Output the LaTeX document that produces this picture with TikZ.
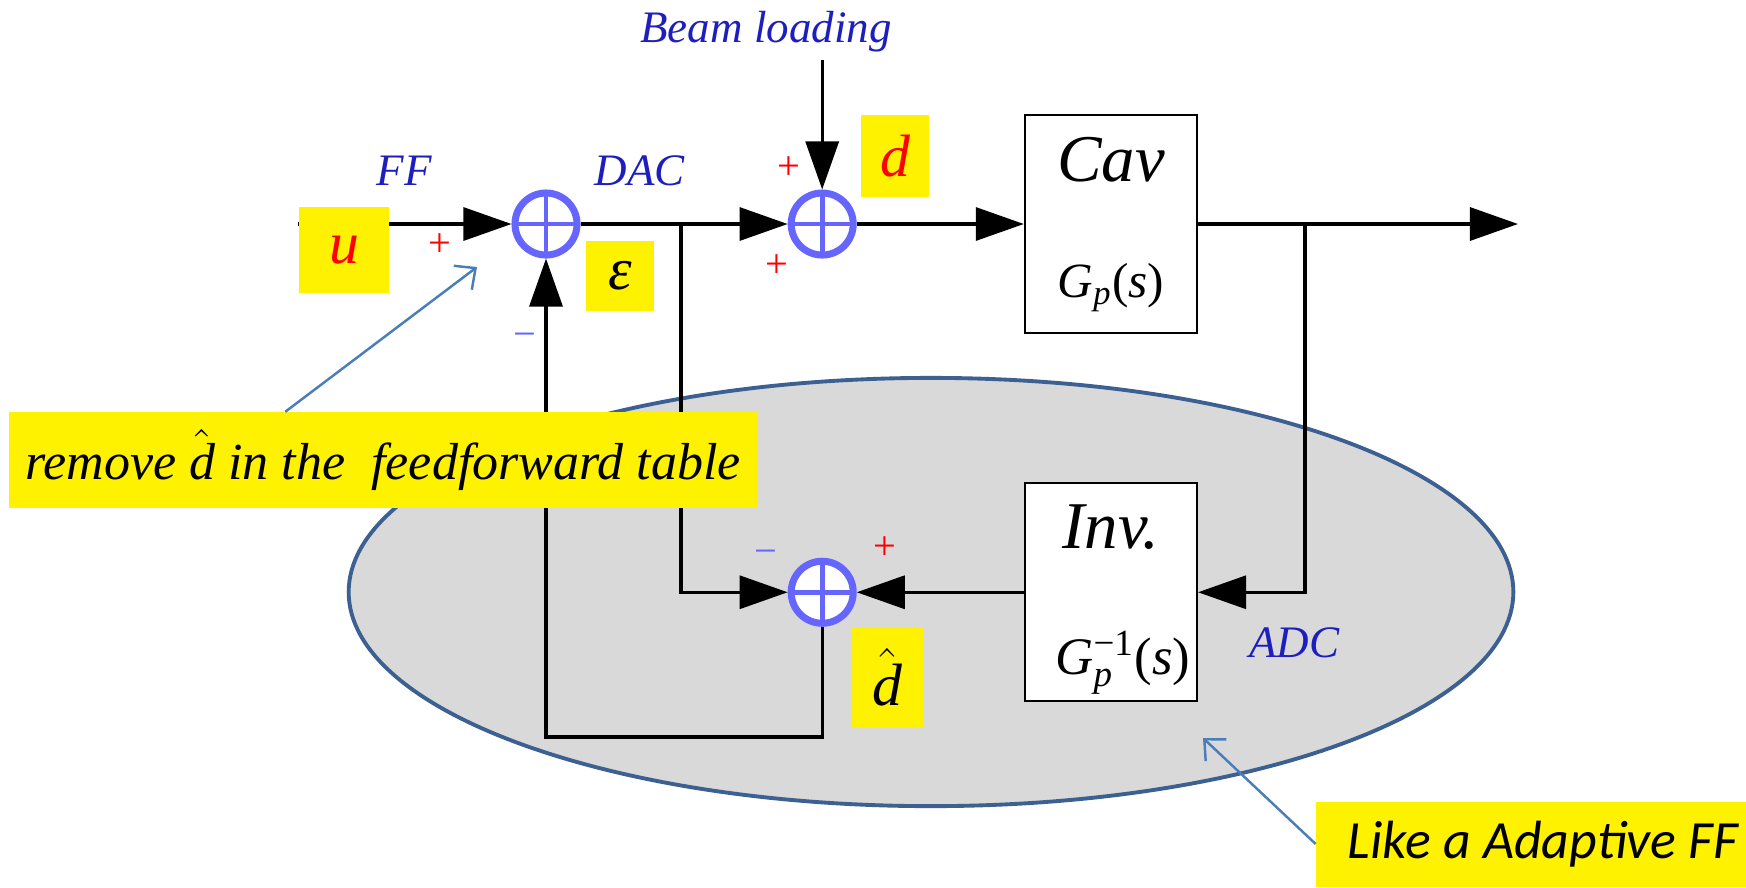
\documentclass[tikz,border=0pt]{standalone}
\usepackage{amsmath}
\usepackage{fontspec}
\setmainfont{Liberation Serif}
\newfontfamily\calfont{Carlito}
\usetikzlibrary{arrows.meta,positioning,shapes.geometric}
\definecolor{sumblue}{RGB}{102,102,255}
\definecolor{labelblue}{RGB}{30,30,190}
\definecolor{zoneedge}{RGB}{60,96,145}
\definecolor{zonefill}{RGB}{217,217,217}
\definecolor{pinblue}{RGB}{74,126,187}
\tikzset{
  ffbox/.style={
    draw,
    fill=white,
    line width=0.6pt,
    minimum width=17.2mm,
    minimum height=21.8mm,
    inner sep=0pt
  },
  ffsum/.style={
    circle,
    draw=sumblue,
    fill=white,
    line width=2pt,
    minimum size=6.2mm,
    inner sep=0pt,
    path picture={
      \draw[sumblue,line width=1.4pt]
        (path picture bounding box.north) -- (path picture bounding box.south)
        (path picture bounding box.west) -- (path picture bounding box.east);
    }
  },
  ffzone/.style={
    ellipse,
    draw=zoneedge,
    fill=zonefill,
    line width=1.1pt,
    minimum width=116.4mm,
    minimum height=42.8mm
  },
  ffarrow/.style={-{Triangle[length=4.8mm,width=3.3mm]},line width=0.9pt},
  ffpin/.style={-{Straight Barb[length=1.6mm,width=3mm]},pinblue,line width=0.7pt},
  fflabel/.style={font=\fontsize{12.8}{14}\selectfont\itshape,text=labelblue,inner sep=0pt},
  fftitle/.style={font=\fontsize{19}{21}\selectfont\itshape,inner sep=0pt},
  ffformula/.style={font=\fontsize{14}{16}\selectfont,inner sep=0pt},
  ffsign/.style={font=\fontsize{11.5}{12}\selectfont,inner sep=0pt},
  ffmark/.style={fill=yellow,inner sep=0pt,font=\fontsize{17}{18}\selectfont\itshape},
  ffnote/.style={fill=yellow,inner sep=0pt}
}
\newcommand{\dhat}{$\hat{\textit{d}}$}

\begin{document}
\begin{tikzpicture}[x=0.01cm,y=-0.01cm,node distance=5mm]
  \useasboundingbox (0,0) rectangle (1746,887);
  % adaptive part
  \node[ffzone] (zone) at (931,592) {};

  % summing points and blocks
  \node[ffsum] (sumff) at (546,224) {};
  \node[ffsum,right=2.07cm of sumff] (sumbl) {};
  \node[ffbox,right=1.67cm of sumbl] (cav) {};
  \node[ffsum,below=2.99cm of sumbl] (sumest) {};
  \node[ffbox,right=1.67cm of sumest] (inv) {};

  \node[fftitle,anchor=base] (cavname) at ([yshift=-6.8mm]cav.north) {Cav};
  \node[ffformula,anchor=base] (cavtf) at ([yshift=3.7mm]cav.south)
    {\textit{G}$_{\textit{p}}$(\textit{s})};
  \node[fftitle,anchor=base] (invname) at ([yshift=-6.6mm]inv.north) {Inv.};
  \node[ffformula,anchor=base,font=\fontsize{15}{17}\selectfont] (invtf)
    at ([xshift=1.2mm,yshift=2.8mm]inv.south)
    {\textit{G}$^{\textup{−1}}_{\textit{p}}$(\textit{s})};

  \coordinate (ffin) at (298,224);
  \coordinate (cavout) at (1518,224);
  \coordinate[above=1.29cm of sumbl] (beamin);
  \coordinate (dactap) at (681,224);
  \coordinate (adctap) at (1305,224);
  \coordinate (fbcorner) at (546,737);

  % signal paths
  \draw[ffarrow] (ffin) -- (sumff);
  \draw[ffarrow] (sumff) -- (sumbl);
  \draw[ffarrow] (beamin) -- (sumbl);
  \draw[ffarrow] (sumbl) -- (cav);
  \draw[ffarrow] (cav) -- (cavout);
  \draw[ffarrow] (dactap) |- (sumest);
  \draw[ffarrow] (adctap) |- (inv);
  \draw[ffarrow] (inv) -- (sumest);
  \draw[ffarrow] (sumest) |- (fbcorner) -- (sumff);

  % labels
  \node[fflabel,anchor=base] (beamlbl) at (766,42) {Beam loading};
  \node[fflabel,anchor=base] (fflbl) at (404,185) {FF};
  \node[fflabel,anchor=base] (daclbl) at (640,185) {DAC};
  \node[fflabel,anchor=base] (adclbl) at (1294,657) {ADC};

  \node[ffsign,text=red] (ffplus) at ([shift={(-106,21)}]sumff) {+};
  \node[ffsign,text=sumblue] (fbminus) at ([shift={(-21,116)}]sumff) {−};
  \node[ffsign,text=red] (blplus) at ([shift={(-33,-56)}]sumbl) {+};
  \node[ffsign,text=red] (dacplus) at ([shift={(-45,42)}]sumbl) {+};
  \node[ffsign,text=sumblue] (estminus) at ([shift={(-56,-35)}]sumest) {−};
  \node[ffsign,text=red] (estplus) at ([shift={(63,-44)}]sumest) {+};

  \node[ffmark,minimum width=8.9mm,minimum height=8.5mm,text=red] (umark) at (344,250) {u};
  \node[ffmark,minimum width=6.8mm,minimum height=7mm] (epsmark) at (620,276) {ε};
  \node[ffmark,minimum width=6.8mm,minimum height=8.1mm,text=red] (dmark) at (895,156) {d};
  \node[ffmark,minimum width=7.2mm,minimum height=10mm] (dhatmark) at (887,677) {\dhat};

  % notes
  \node[ffnote,minimum width=74.8mm,minimum height=9.5mm,
    font=\fontsize{14.8}{16}\selectfont\itshape] (remnote) at (383,460)
    {remove \dhat\ in the \ feedforward table};
  \node[ffnote,minimum width=42.9mm,minimum height=8.5mm,
    font=\calfont\fontsize{15.3}{17}\selectfont\itshape] (likenote) at (1531,844)
    {\hspace*{2.4mm}Like a Adaptive FF};
  \coordinate (remtip) at (477,267);
  \coordinate (liketip) at (1203,738);
  \draw[ffpin] ([xshift=2.77cm]remnote.north west) -- (remtip);
  \draw[ffpin] (likenote.west) -- (liketip);
\end{tikzpicture}
\end{document}
